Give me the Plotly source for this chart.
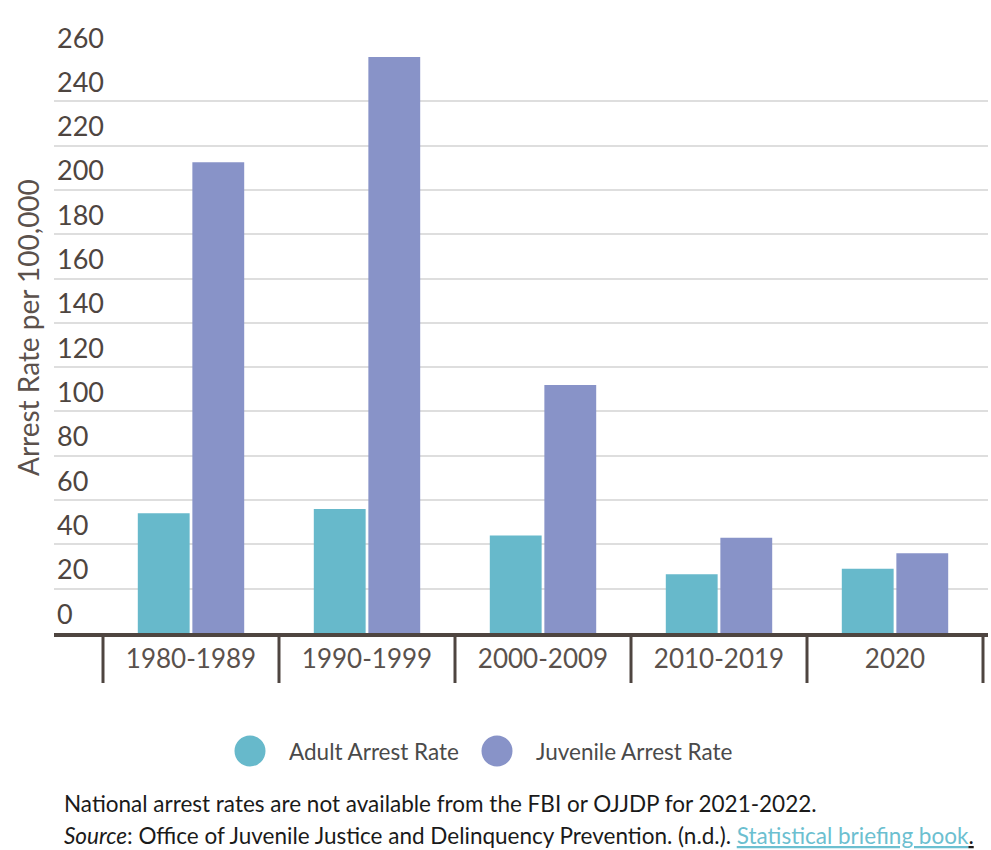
import plotly.graph_objects as go

categories = ["1980-1989", "1990-1999", "2000-2009", "2010-2019", "2020"]
adult_rate = [54, 56, 44, 26.5, 29]
juvenile_rate = [212.5, 260, 112, 43, 36]
y_ticks = list(range(0, 261, 20))

ADULT_COLOR = "#67b9cb"
JUV_COLOR = "#8893c8"
AXIS_COLOR = "#4e4540"
FONT = "Lato"

W, H = 991, 850
L, R, T, B = 54, 3, 57, 217
PW, PH = W - L - R, H - T - B


def px_x(px):
    return (px - L) / PW


def px_y(py):
    return (H - B - py) / PH


fig = go.Figure()
fig.add_trace(go.Bar(x=categories, y=adult_rate, name="Adult Arrest Rate",
                     marker=dict(color=ADULT_COLOR, line=dict(width=0)), showlegend=False))
fig.add_trace(go.Bar(x=categories, y=juvenile_rate, name="Juvenile Arrest Rate",
                     marker=dict(color=JUV_COLOR, line=dict(width=0)), showlegend=False))

n = len(categories)
left_ext = (103 - L) / 176
right_ext = (L + PW - 983) / 176

shapes = []
# category dividers below the axis
for i in range(n + 1):
    shapes.append(dict(type="line", xref="x", yref="paper", x0=i - 0.5, x1=i - 0.5,
                       y0=0, y1=-(683 - (H - B)) / PH,
                       line=dict(color=AXIS_COLOR, width=3)))

# legend circles
legend_items = [("Adult Arrest Rate", ADULT_COLOR, 250, 287),
                ("Juvenile Arrest Rate", JUV_COLOR, 497, 534)]
annotations = []
for name, col, cx, tx in legend_items:
    shapes.append(dict(type="circle", xref="paper", yref="paper",
                       xsizemode="pixel", ysizemode="pixel",
                       xanchor=px_x(cx), yanchor=px_y(751),
                       x0=-15.5, x1=15.5, y0=-15.5, y1=15.5,
                       fillcolor=col, line=dict(width=0)))
    annotations.append(dict(text=name, xref="paper", yref="paper", x=px_x(tx), y=px_y(751),
                            xanchor="left", yanchor="middle", showarrow=False,
                            font=dict(family=FONT, size=22.5, color="#4a4a4a")))

annotations.append(dict(text="Arrest Rate per 100,000", xref="paper", yref="paper",
                        x=px_x(28), y=px_y(328), xanchor="center", yanchor="middle",
                        textangle=-90, showarrow=False,
                        font=dict(family=FONT, size=28, color="#5b514c")))
annotations.append(dict(text="National arrest rates are not available from the FBI or OJJDP for 2021-2022.",
                        xref="paper", yref="paper", x=px_x(62), y=px_y(803),
                        xanchor="left", yanchor="middle", showarrow=False,
                        font=dict(family=FONT, size=22.5, color="#1a1a1a")))
annotations.append(dict(text="<i>Source</i>: Office of Juvenile Justice and Delinquency Prevention. (n.d.). "
                             "<span style='color:#6cbfd0'><u>Statistical briefing book</u></span><u>.</u>",
                        xref="paper", yref="paper", x=px_x(62), y=px_y(835),
                        xanchor="left", yanchor="middle", showarrow=False,
                        font=dict(family=FONT, size=22.5, color="#1a1a1a")))

fig.update_layout(
    width=W, height=H,
    margin=dict(l=L, r=R, t=T, b=B),
    paper_bgcolor="white", plot_bgcolor="white",
    barmode="group", bargap=0.38, bargroupgap=0.05,
    font=dict(family=FONT, color=AXIS_COLOR),
    shapes=shapes, annotations=annotations,
    showlegend=False,
    xaxis=dict(type="category", range=[-0.5 - left_ext, n - 0.5 + right_ext],
               showline=True, linecolor=AXIS_COLOR, linewidth=4,
               ticks="", showgrid=False, zeroline=False,
               tickfont=dict(family=FONT, size=26, color="#5a514c")),
    yaxis=dict(range=[0, 260], tickvals=y_ticks, ticktext=[str(v) for v in y_ticks],
               showgrid=True, gridcolor="#dedede", gridwidth=2, zeroline=False,
               showline=False, ticks="",
               ticklabelposition="inside top", ticklabeloverflow="allow",
               tickfont=dict(family=FONT, size=27, color=AXIS_COLOR)),
)

fig.write_html("out.html", config={"displayModeBar": False},
               post_script="document.body.style.margin='0';document.body.style.overflow='hidden';")
